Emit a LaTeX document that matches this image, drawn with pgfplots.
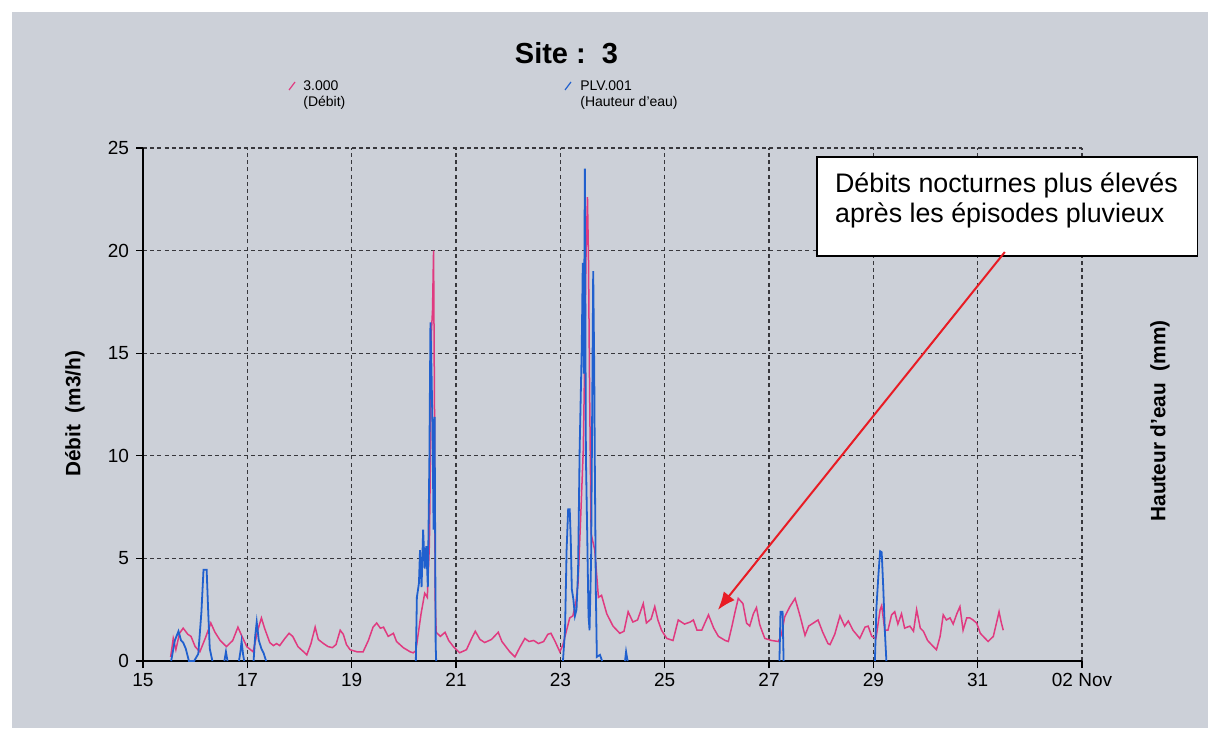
\documentclass[border=0pt]{standalone}
\usepackage{fontspec}
\setmainfont{Liberation Sans}
\usepackage{pgfplots}
\pgfplotsset{compat=1.18}
\usetikzlibrary{arrows.meta}

\definecolor{panel}{RGB}{204,208,216}
\definecolor{debit}{RGB}{224,58,128}
\definecolor{pluie}{RGB}{32,96,206}
\definecolor{gridc}{RGB}{55,55,60}
\definecolor{arrowred}{RGB}{232,28,36}

\begin{document}
\begin{tikzpicture}
% page and grey panel
\fill[white] (0,0) rectangle (604pt,364pt);
\fill[panel] (6pt,0) rectangle (604pt,358pt);

\begin{axis}[
  at={(71.5pt,33.5pt)}, anchor=south west,
  scale only axis, width=469.5pt, height=256.5pt,
  xmin=15, xmax=33, ymin=0, ymax=25,
  axis x line*=bottom, axis y line*=left,
  axis line style={black, line width=0.8pt},
  xtick={15,17,...,33},
  xticklabels={15,17,19,21,23,25,27,29,31,02 Nov},
  ytick={0,5,...,25},
  tick align=outside, major tick length=3.5pt,
  every tick/.style={black, line width=0.6pt},
  tick label style={font=\fontsize{9.5}{11}\selectfont},
  /pgf/number format/assume math mode=true,
  xticklabel style={yshift=1pt},
  grid=major,
  major grid style={gridc, line width=0.6pt, dash pattern=on 2pt off 1.6pt},
  clip=false,
  unbounded coords=jump,
]

% Débit (m3/h)
\addplot[debit, line width=0.75pt] coordinates {
(15.53,0.2) (15.58,1.1) (15.63,0.55) (15.70,1.35) (15.77,1.6) (15.86,1.3)
(15.92,1.2) (16.00,0.7) (16.09,0.45) (16.20,1.15) (16.30,1.85) (16.38,1.4)
(16.48,1.0) (16.60,0.7) (16.72,1.0) (16.82,1.65) (16.88,1.3) (16.99,0.7)
(17.11,0.45) (17.20,1.5) (17.27,2.1) (17.33,1.6) (17.43,0.9) (17.50,0.75)
(17.56,0.85) (17.62,0.75) (17.72,1.1) (17.80,1.35) (17.87,1.2) (17.97,0.7)
(18.10,0.4) (18.14,0.3) (18.22,0.85) (18.30,1.65) (18.36,1.05) (18.46,0.85)
(18.55,0.7) (18.63,0.65) (18.70,0.8) (18.78,1.5) (18.84,1.3) (18.90,0.8)
(18.97,0.55) (19.10,0.45) (19.22,0.45) (19.32,1.0) (19.41,1.65) (19.48,1.85)
(19.55,1.6) (19.61,1.65) (19.70,1.2) (19.80,1.35) (19.86,0.95) (19.99,0.65)
(20.12,0.45) (20.18,0.4) (20.23,0.5) (20.28,1.4) (20.33,2.3) (20.40,3.3)
(20.45,3.1) (20.49,5.7) (20.51,10.0) (20.53,16.1) (20.55,17.1) (20.57,20.0)
(20.59,11.3) (20.60,3.1) (20.62,1.4) (20.70,1.2) (20.79,1.4) (20.86,1.0)
(20.95,0.7) (21.07,0.4) (21.20,0.55) (21.30,1.1) (21.37,1.45) (21.46,1.05)
(21.55,0.9) (21.68,1.05) (21.81,1.4) (21.88,0.95) (22.03,0.45) (22.13,0.2)
(22.22,0.65) (22.32,1.1) (22.40,0.95) (22.49,1.0) (22.58,0.85) (22.68,0.95)
(22.76,1.3) (22.82,1.35) (22.90,0.95) (22.99,0.45) (23.05,0.8) (23.12,1.5)
(23.18,2.1) (23.24,2.2) (23.30,2.9) (23.34,3.8) (23.39,7.0) (23.44,10.3)
(23.47,15.2) (23.49,19.5) (23.52,22.6) (23.54,19.5) (23.56,13.5) (23.59,6.2)
(23.66,5.4) (23.73,3.1) (23.79,3.2) (23.89,2.3) (24.01,1.7) (24.14,1.35)
(24.22,1.45) (24.30,2.4) (24.39,1.9) (24.48,2.0) (24.59,2.8) (24.65,1.85)
(24.74,2.05) (24.81,2.65) (24.87,2.0) (24.94,1.5) (25.04,1.1) (25.16,1.0)
(25.26,2.0) (25.38,1.8) (25.49,1.9) (25.55,2.0) (25.62,1.5) (25.71,1.5)
(25.84,2.25) (25.94,1.6) (26.03,1.2) (26.16,1.0) (26.22,0.95) (26.29,1.7)
(26.35,2.4) (26.41,3.05) (26.50,2.8) (26.57,1.85) (26.63,1.7) (26.70,2.3)
(26.76,2.6) (26.82,1.8) (26.86,1.5) (26.92,1.1) (27.05,1.0) (27.18,0.95)
(27.24,1.3) (27.30,2.15) (27.40,2.65) (27.50,3.05) (27.60,2.15) (27.69,1.25)
(27.76,1.7) (27.85,1.85) (27.94,2.0) (28.03,1.4) (28.13,0.85) (28.17,0.8)
(28.26,1.3) (28.36,2.2) (28.45,1.7) (28.52,1.95) (28.61,1.5) (28.74,1.1)
(28.84,1.65) (28.90,1.7) (28.97,1.2) (29.05,1.1) (29.13,2.5) (29.16,2.7)
(29.22,1.5) (29.28,1.5) (29.35,2.25) (29.41,2.4) (29.47,1.8) (29.54,2.3)
(29.60,1.6) (29.70,1.7) (29.77,1.45) (29.83,2.5) (29.90,1.6) (29.96,1.45)
(30.04,1.0) (30.15,0.7) (30.21,0.55) (30.28,1.2) (30.34,2.25) (30.40,2.0)
(30.47,2.1) (30.53,1.8) (30.60,2.3) (30.66,2.65) (30.72,1.5) (30.79,2.1)
(30.85,2.1) (30.91,2.0) (30.98,1.85) (31.05,1.35) (31.20,0.95) (31.30,1.2)
(31.36,1.85) (31.41,2.4) (31.45,1.9) (31.49,1.5)
};

% Hauteur d'eau (mm), dry spells left out
\addplot[pluie, line width=0.9pt] coordinates {
(15.54,0) (15.61,1.0) (15.68,1.45) (15.73,1.0) (15.77,0.9) (15.82,0.6)
(15.88,0) (15.98,0) (16.06,0.35) (16.12,2.4) (16.16,4.45) (16.22,4.45)
(16.25,2.4) (16.28,0.6) (16.33,0)
(nan,nan)
(16.56,0) (16.59,0.45) (16.62,0)
(nan,nan)
(16.84,0) (16.87,0.5) (16.89,0.95) (16.92,0.3) (16.94,0)
(nan,nan)
(17.12,0) (17.15,1.2) (17.18,1.9) (17.22,1.0) (17.27,0.6) (17.31,0.4) (17.36,0)
(nan,nan)
(20.23,0) (20.25,3.1) (20.29,3.8) (20.31,5.4) (20.34,3.6) (20.37,6.4)
(20.40,4.5) (20.43,5.6) (20.46,3.6) (20.49,9.9) (20.51,16.5) (20.53,14.2)
(20.55,11.3) (20.57,6.4) (20.59,11.9) (20.61,0.8) (20.62,0)
(nan,nan)
(23.05,0) (23.09,1.5) (23.12,5.4) (23.15,7.4) (23.18,7.4) (23.20,5.9)
(23.22,3.5) (23.25,3.0) (23.28,2.2) (23.31,2.5) (23.34,4.4) (23.37,10.3)
(23.41,15.2) (23.43,19.4) (23.45,14.0) (23.47,24.0) (23.49,10.0) (23.51,7.0)
(23.54,2.2) (23.56,1.5) (23.59,5.0) (23.63,19.0) (23.65,14.2) (23.66,10.0)
(23.68,3.5) (23.70,0.2) (23.76,0.3) (23.80,0)
(nan,nan)
(24.24,0) (24.26,0.45) (24.29,0)
(nan,nan)
(27.20,0) (27.22,2.4) (27.26,2.4) (27.28,0)
(nan,nan)
(29.03,0) (29.06,2.65) (29.10,4.3) (29.13,5.35) (29.16,5.3) (29.19,3.6)
(29.22,1.5) (29.25,0)
};

% title and legend
\node[font=\fontsize{14.5}{17}\selectfont\bfseries] at (axis description cs:0.451,1.185) {Site :\ \ 3};
\draw[debit, line width=0.6pt] (axis description cs:0.1555,1.1131) -- (axis description cs:0.1619,1.1287);
\node[anchor=west, align=left, inner sep=0pt, font=\fontsize{7}{8}\selectfont]
  at (axis description cs:0.1704,1.1033) {3.000\\(Débit)};
\draw[pluie, line width=0.6pt] (axis description cs:0.4494,1.1131) -- (axis description cs:0.4558,1.1287);
\node[anchor=west, align=left, inner sep=0pt, font=\fontsize{7}{8}\selectfont]
  at (axis description cs:0.4654,1.1033) {PLV.001\\(Hauteur d'eau)};

% axis titles
\node[rotate=90, font=\fontsize{10.4}{12}\selectfont\bfseries]
  at (axis description cs:-0.0724,0.482) {Débit\ \ (m3/h)};
\node[rotate=90, font=\fontsize{10.4}{12}\selectfont\bfseries]
  at (axis description cs:1.083,0.468) {Hauteur d'eau\ \ (mm)};

% comment box and arrow
\draw[black, line width=0.6pt, fill=white] (axis cs:27.92,19.74) rectangle (axis cs:35.22,24.56);
\node[anchor=west, align=left, inner sep=0pt, font=\fontsize{13.4}{15}\selectfont]
  at (axis cs:28.26,22.47) {Débits nocturnes plus élevés\\après les épisodes pluvieux};
\draw[arrowred, line width=1pt, -{Latex[length=9pt, width=7pt]}]
  (axis cs:31.52,19.93) -- (axis cs:26.02,2.49);
\end{axis}
\pgfresetboundingbox
\useasboundingbox (0,0) rectangle (604pt,364pt);
\end{tikzpicture}
\end{document}
